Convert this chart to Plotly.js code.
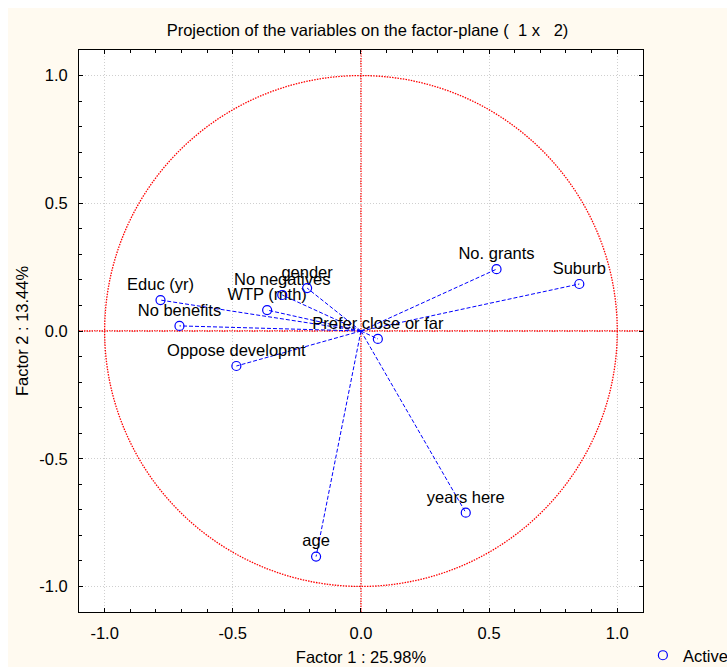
<!DOCTYPE html>
<html>
<head>
<meta charset="utf-8">
<script src="https://cdn.plot.ly/plotly-3.0.1.min.js"></script>
<style>
  html, body { margin: 0; padding: 0; background: #ffffff; }
  #chart { position: absolute; left: 8px; top: 8px; width: 719px; height: 659px; }
</style>
</head>
<body>
<div id="chart"></div>
<script>
// Variable names and their coordinates on factors 1 and 2
const variables = ['Suburb', 'No. grants', 'years here', 'age', 'Educ (yr)', 'No benefits',
                   'WTP (mth)', 'gender', 'No negatives', 'Prefer close or far', 'Oppose developmt'];
const factor1 = [0.852, 0.529, 0.409, -0.175, -0.782, -0.708, -0.366, -0.210, -0.307, 0.066, -0.486];
const factor2 = [0.184, 0.242, -0.711, -0.883, 0.121, 0.020, 0.082, 0.168, 0.141, -0.031, -0.137];
const tickVals = [-1.0, -0.5, 0.0, 0.5, 1.0];
const tickText = ['-1.0', '-0.5', '0.0', '0.5', '1.0'];

const FONT = 'Arial, "Liberation Sans", sans-serif';
const FS = 16.5;
const BLUE = '#0000ff';
const RED = '#ff0000';

// Rays from the origin to each variable, separated by gaps
const rayX = [], rayY = [];
for (let i = 0; i < variables.length; i++) {
  rayX.push(0, factor1[i], null);
  rayY.push(0, factor2[i], null);
}

const rays = {
  x: rayX, y: rayY, type: 'scatter', mode: 'lines',
  line: { color: BLUE, width: 1, dash: '4px,2px' },
  hoverinfo: 'skip', showlegend: false
};

const points = {
  x: factor1, y: factor2, type: 'scatter', mode: 'markers',
  name: 'Active',
  marker: { symbol: 'circle-open', size: 9, color: BLUE, line: { width: 1.2, color: BLUE } },
  showlegend: true
};

// Labels sit above each point; an invisible marker sets the gap
const labels = {
  x: factor1, y: factor2, type: 'scatter', mode: 'markers+text',
  text: variables, textposition: 'top center',
  marker: { size: 8, opacity: 0 },
  textfont: { family: FONT, size: FS, color: '#000000' },
  hoverinfo: 'skip', showlegend: false
};

const axisCommon = {
  range: [-1.1, 1.1],
  tickmode: 'array',
  tickvals: tickVals,
  ticktext: tickText,
  ticks: 'inside', ticklen: 4, tickwidth: 1, tickcolor: '#000000',
  minor: { dtick: 0.1, ticks: 'inside', ticklen: 3, tickcolor: '#000000', showgrid: false },
  showgrid: true, gridcolor: '#cfcfcf', griddash: '1px,2px', gridwidth: 1,
  zeroline: false,
  showline: true, linecolor: '#000000', linewidth: 1, mirror: 'ticks',
  tickfont: { family: FONT, size: FS, color: '#000000' },
  fixedrange: true
};

const layout = {
  width: 719, height: 659,
  paper_bgcolor: '#fffaf0',
  plot_bgcolor: '#ffffff',
  margin: { l: 71, r: 84, t: 42, b: 55 },
  title: {
    text: 'Projection of the variables on the factor-plane (\u00a0 1 x \u00a0 2)',
    font: { family: FONT, size: FS, color: '#000000' },
    x: 0.5, xref: 'container', y: 0.966, yref: 'container', yanchor: 'middle'
  },
  xaxis: Object.assign({}, axisCommon, {
    title: { text: 'Factor 1 : 25.98%', font: { family: FONT, size: FS, color: '#000000' }, standoff: 10 },
    ticklabelstandoff: 6
  }),
  yaxis: Object.assign({}, axisCommon, {
    title: { text: 'Factor 2 : 13.44%', font: { family: FONT, size: FS, color: '#000000' }, standoff: 6 },
    ticklabelstandoff: 7
  }),
  showlegend: true,
  legend: {
    xref: 'container', yref: 'container',
    x: 0.883, xanchor: 'left', y: 0.044, yanchor: 'top',
    bgcolor: 'rgba(0,0,0,0)', borderwidth: 0,
    font: { family: FONT, size: FS, color: '#000000' }
  },
  shapes: [
    { type: 'circle', xref: 'x', yref: 'y', x0: -1, y0: -1, x1: 1, y1: 1,
      line: { color: RED, width: 1.3, dash: '1.5px,1.2px' }, layer: 'above' },
    { type: 'line', xref: 'paper', yref: 'y', x0: 0, x1: 1, y0: 0, y1: 0,
      line: { color: RED, width: 1.3, dash: '1.5px,1px' }, layer: 'below' },
    { type: 'line', xref: 'x', yref: 'paper', x0: 0, x1: 0, y0: 0, y1: 1,
      line: { color: RED, width: 1.3, dash: '1.5px,1px' }, layer: 'below' }
  ]
};

Plotly.newPlot('chart', [rays, labels, points], layout, { displayModeBar: false, staticPlot: true });
</script>
</body>
</html>
